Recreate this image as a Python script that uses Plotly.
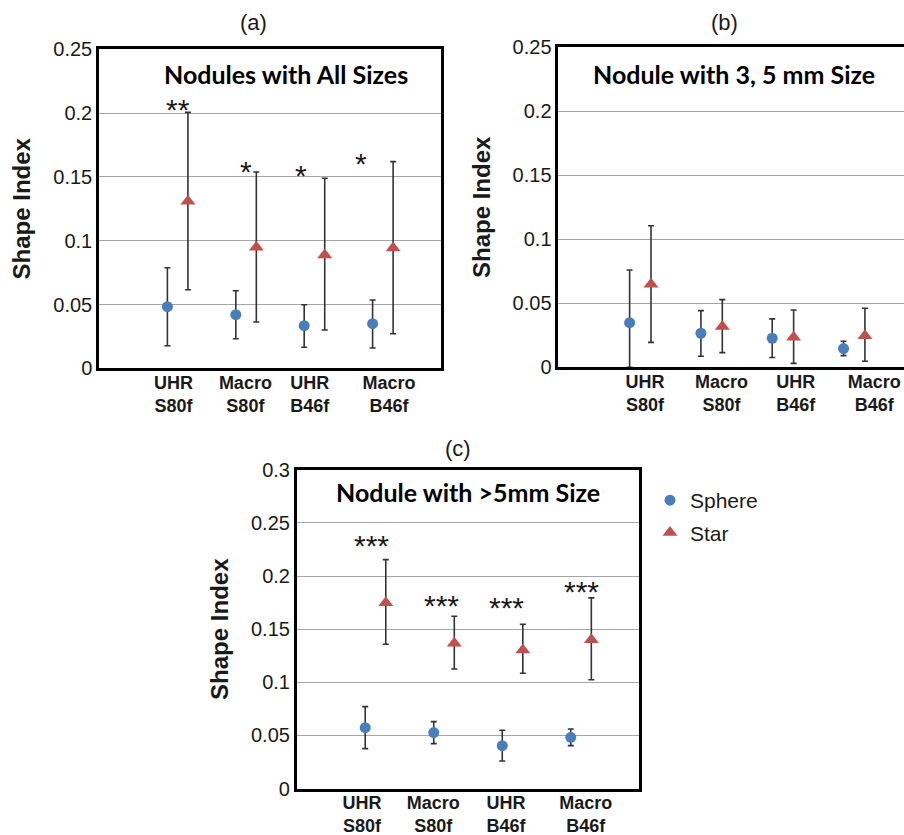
import plotly.graph_objects as go

W, H = 904, 835

categories = ["UHR<br>S80f", "Macro<br>S80f", "UHR<br>B46f", "Macro<br>B46f"]
series_names = ["Sphere", "Star"]

# ---- Panel (a): Nodules with All Sizes ----
a_sphere_mean = [0.0483, 0.0420, 0.0334, 0.0350]
a_sphere_hi = [0.0788, 0.0608, 0.0498, 0.0535]
a_sphere_lo = [0.0177, 0.0232, 0.0165, 0.0159]
a_star_mean = [0.1310, 0.0948, 0.0888, 0.0943]
a_star_hi = [0.2006, 0.1538, 0.1490, 0.1620]
a_star_lo = [0.0616, 0.0363, 0.0300, 0.0271]
a_signif = ["**", "*", "*", "*"]

# ---- Panel (b): Nodule with 3, 5 mm Size ----
b_sphere_mean = [0.0349, 0.0266, 0.0227, 0.0146]
b_sphere_hi = [0.0760, 0.0443, 0.0378, 0.0203]
b_sphere_lo = [0.0000, 0.0086, 0.0076, 0.0091]
b_star_mean = [0.0648, 0.0318, 0.0234, 0.0247]
b_star_hi = [0.1106, 0.0529, 0.0448, 0.0461]
b_star_lo = [0.0195, 0.0115, 0.0031, 0.0047]

# ---- Panel (c): Nodule with >5mm Size ----
c_sphere_mean = [0.0573, 0.0527, 0.0404, 0.0483]
c_sphere_hi = [0.0771, 0.0630, 0.0549, 0.0561]
c_sphere_lo = [0.0376, 0.0423, 0.0260, 0.0404]
c_star_mean = [0.1750, 0.1368, 0.1305, 0.1400]
c_star_hi = [0.2155, 0.1622, 0.1547, 0.1795]
c_star_lo = [0.1359, 0.1126, 0.1086, 0.1025]
c_signif = ["***", "***", "***", "***"]

titles = ["Nodules with All Sizes", "Nodule with 3, 5 mm Size", "Nodule with >5mm Size"]
panel_labels = ["(a)", "(b)", "(c)"]
y_title = "Shape Index"

# ---------------- layout helpers ----------------
SPHERE_COLOR = "#4a7ebb"
STAR_COLOR = "#c0504d"
STAR_OFFSET = 0.3


def px(x):
    return x / W


def py(y):
    return 1 - y / H


panels = [
    dict(key="", means=(a_sphere_mean, a_star_mean), his=(a_sphere_hi, a_star_hi),
         los=(a_sphere_lo, a_star_lo), box=(99, 441, 49.3, 368.3), xr=[0, 5], yr=[0, 0.25],
         ticks=[1.09, 2.14, 3.08, 4.24], mirror_y=True),
    dict(key="2", means=(b_sphere_mean, b_star_mean), his=(b_sphere_hi, b_star_hi),
         los=(b_sphere_lo, b_star_lo), box=(558.3, 904, 47.3, 367.3), xr=[0, 4.848], yr=[0, 0.25],
         ticks=[1.216, 2.29, 3.33, 4.43], mirror_y=False),
    dict(key="3", means=(c_sphere_mean, c_star_mean), his=(c_sphere_hi, c_star_hi),
         los=(c_sphere_lo, c_star_lo), box=(296.7, 639.3, 469.8, 788.6), xr=[0, 5], yr=[0, 0.3],
         ticks=[0.953, 1.994, 3.056, 4.22], mirror_y=True),
]

fig = go.Figure()
layout = dict(
    width=W, height=H, margin=dict(l=0, r=0, t=0, b=0, autoexpand=False),
    paper_bgcolor="white", plot_bgcolor="white",
    font=dict(family="Liberation Sans, Arial, sans-serif", color="#1a1a1a"),
)

for pi, p in enumerate(panels):
    k = p["key"]
    xa = "x" + k
    ya = "y" + k
    for si, name in enumerate(series_names):
        means = p["means"][si]
        his = p["his"][si]
        los = p["los"][si]
        xs = [i + 1 + (STAR_OFFSET if si == 1 else 0) for i in range(len(means))]
        fig.add_trace(go.Scatter(
            x=xs, y=means, mode="markers", name=name,
            xaxis=xa, yaxis=ya,
            legendgroup=name, showlegend=(pi == 2),
            marker=dict(
                symbol="circle" if si == 0 else "triangle-up",
                size=11 if si == 0 else 13,
                color=SPHERE_COLOR if si == 0 else STAR_COLOR,
                line=dict(width=0),
            ),
            error_y=dict(
                type="data", symmetric=False,
                array=[h - m for h, m in zip(his, means)],
                arrayminus=[m - l for m, l in zip(means, los)],
                color="#333333", thickness=1.6, width=3,
            ),
        ))
    x0, x1, y0, y1 = p["box"]
    layout["xaxis" + k] = dict(
        domain=[px(x0), min(px(x1), 1.0)], range=p["xr"], anchor=ya,
        showgrid=False, zeroline=False, showline=True, linecolor="black",
        linewidth=2.5, mirror=True, ticks="", automargin=False,
        tickvals=p["ticks"], ticktext=categories,
        tickfont=dict(size=18, weight="bold", color="#1a1a1a"),
        ticklabelstandoff=-4, fixedrange=True,
    )
    layout["yaxis" + k] = dict(
        domain=[py(y1), py(y0)], range=p["yr"], anchor=xa, dtick=0.05,
        showgrid=True, gridcolor="#a6a6a6", gridwidth=1,
        zeroline=False, showline=True, linecolor="black", linewidth=2.5,
        mirror=p["mirror_y"], ticks="", automargin=False,
        tickfont=dict(size=20, color="#1a1a1a"),
        ticklabelstandoff=0,
        title=dict(text=y_title, font=dict(size=24, weight="bold", color="#1a1a1a"), standoff=16),
        fixedrange=True,
    )

annotations = []
# panel labels (a), (b), (c)
for lbl, (x, y) in zip(panel_labels, [(253, 22), (724, 22), (457.7, 448.3)]):
    annotations.append(dict(text=lbl, x=px(x), y=py(y), xref="paper", yref="paper",
                            showarrow=False, xanchor="center", yanchor="middle",
                            font=dict(size=22, color="#1a1a1a")))
# boxed titles
for t, (x, y) in zip(titles, [(285.7, 74), (734.3, 74), (468.3, 491.7)]):
    annotations.append(dict(text="<b>" + t + "</b>", x=px(x), y=py(y), xref="paper", yref="paper",
                            showarrow=False, xanchor="center", yanchor="middle",
                            font=dict(size=25, family="Lato, Open Sans, sans-serif", color="black")))
# significance stars (data coordinates)
sig_pos_a = [(1.155, 0.206), (2.15, 0.157), (2.96, 0.154), (3.83, 0.164)]
sig_pos_c = [(1.095, 0.2325), (2.117, 0.176), (3.066, 0.1745), (4.16, 0.1895)]
for txt, (x, y) in zip(a_signif, sig_pos_a):
    annotations.append(dict(text=txt, x=x, y=y, xref="x", yref="y", showarrow=False, yshift=-4,
                            xanchor="center", yanchor="middle", font=dict(size=30, color="#1a1a1a")))
for txt, (x, y) in zip(c_signif, sig_pos_c):
    annotations.append(dict(text=txt, x=x, y=y, xref="x3", yref="y3", showarrow=False, yshift=-4,
                            xanchor="center", yanchor="middle", font=dict(size=30, color="#1a1a1a")))

layout["annotations"] = annotations
layout["legend"] = dict(
    x=px(650), y=py(480), xanchor="left", yanchor="top",
    font=dict(size=21, color="#1a1a1a"), bgcolor="rgba(0,0,0,0)",
    traceorder="grouped", tracegroupgap=2, itemwidth=30,
)
layout["showlegend"] = True

fig.update_layout(**layout)
fig.write_html("out.html")
